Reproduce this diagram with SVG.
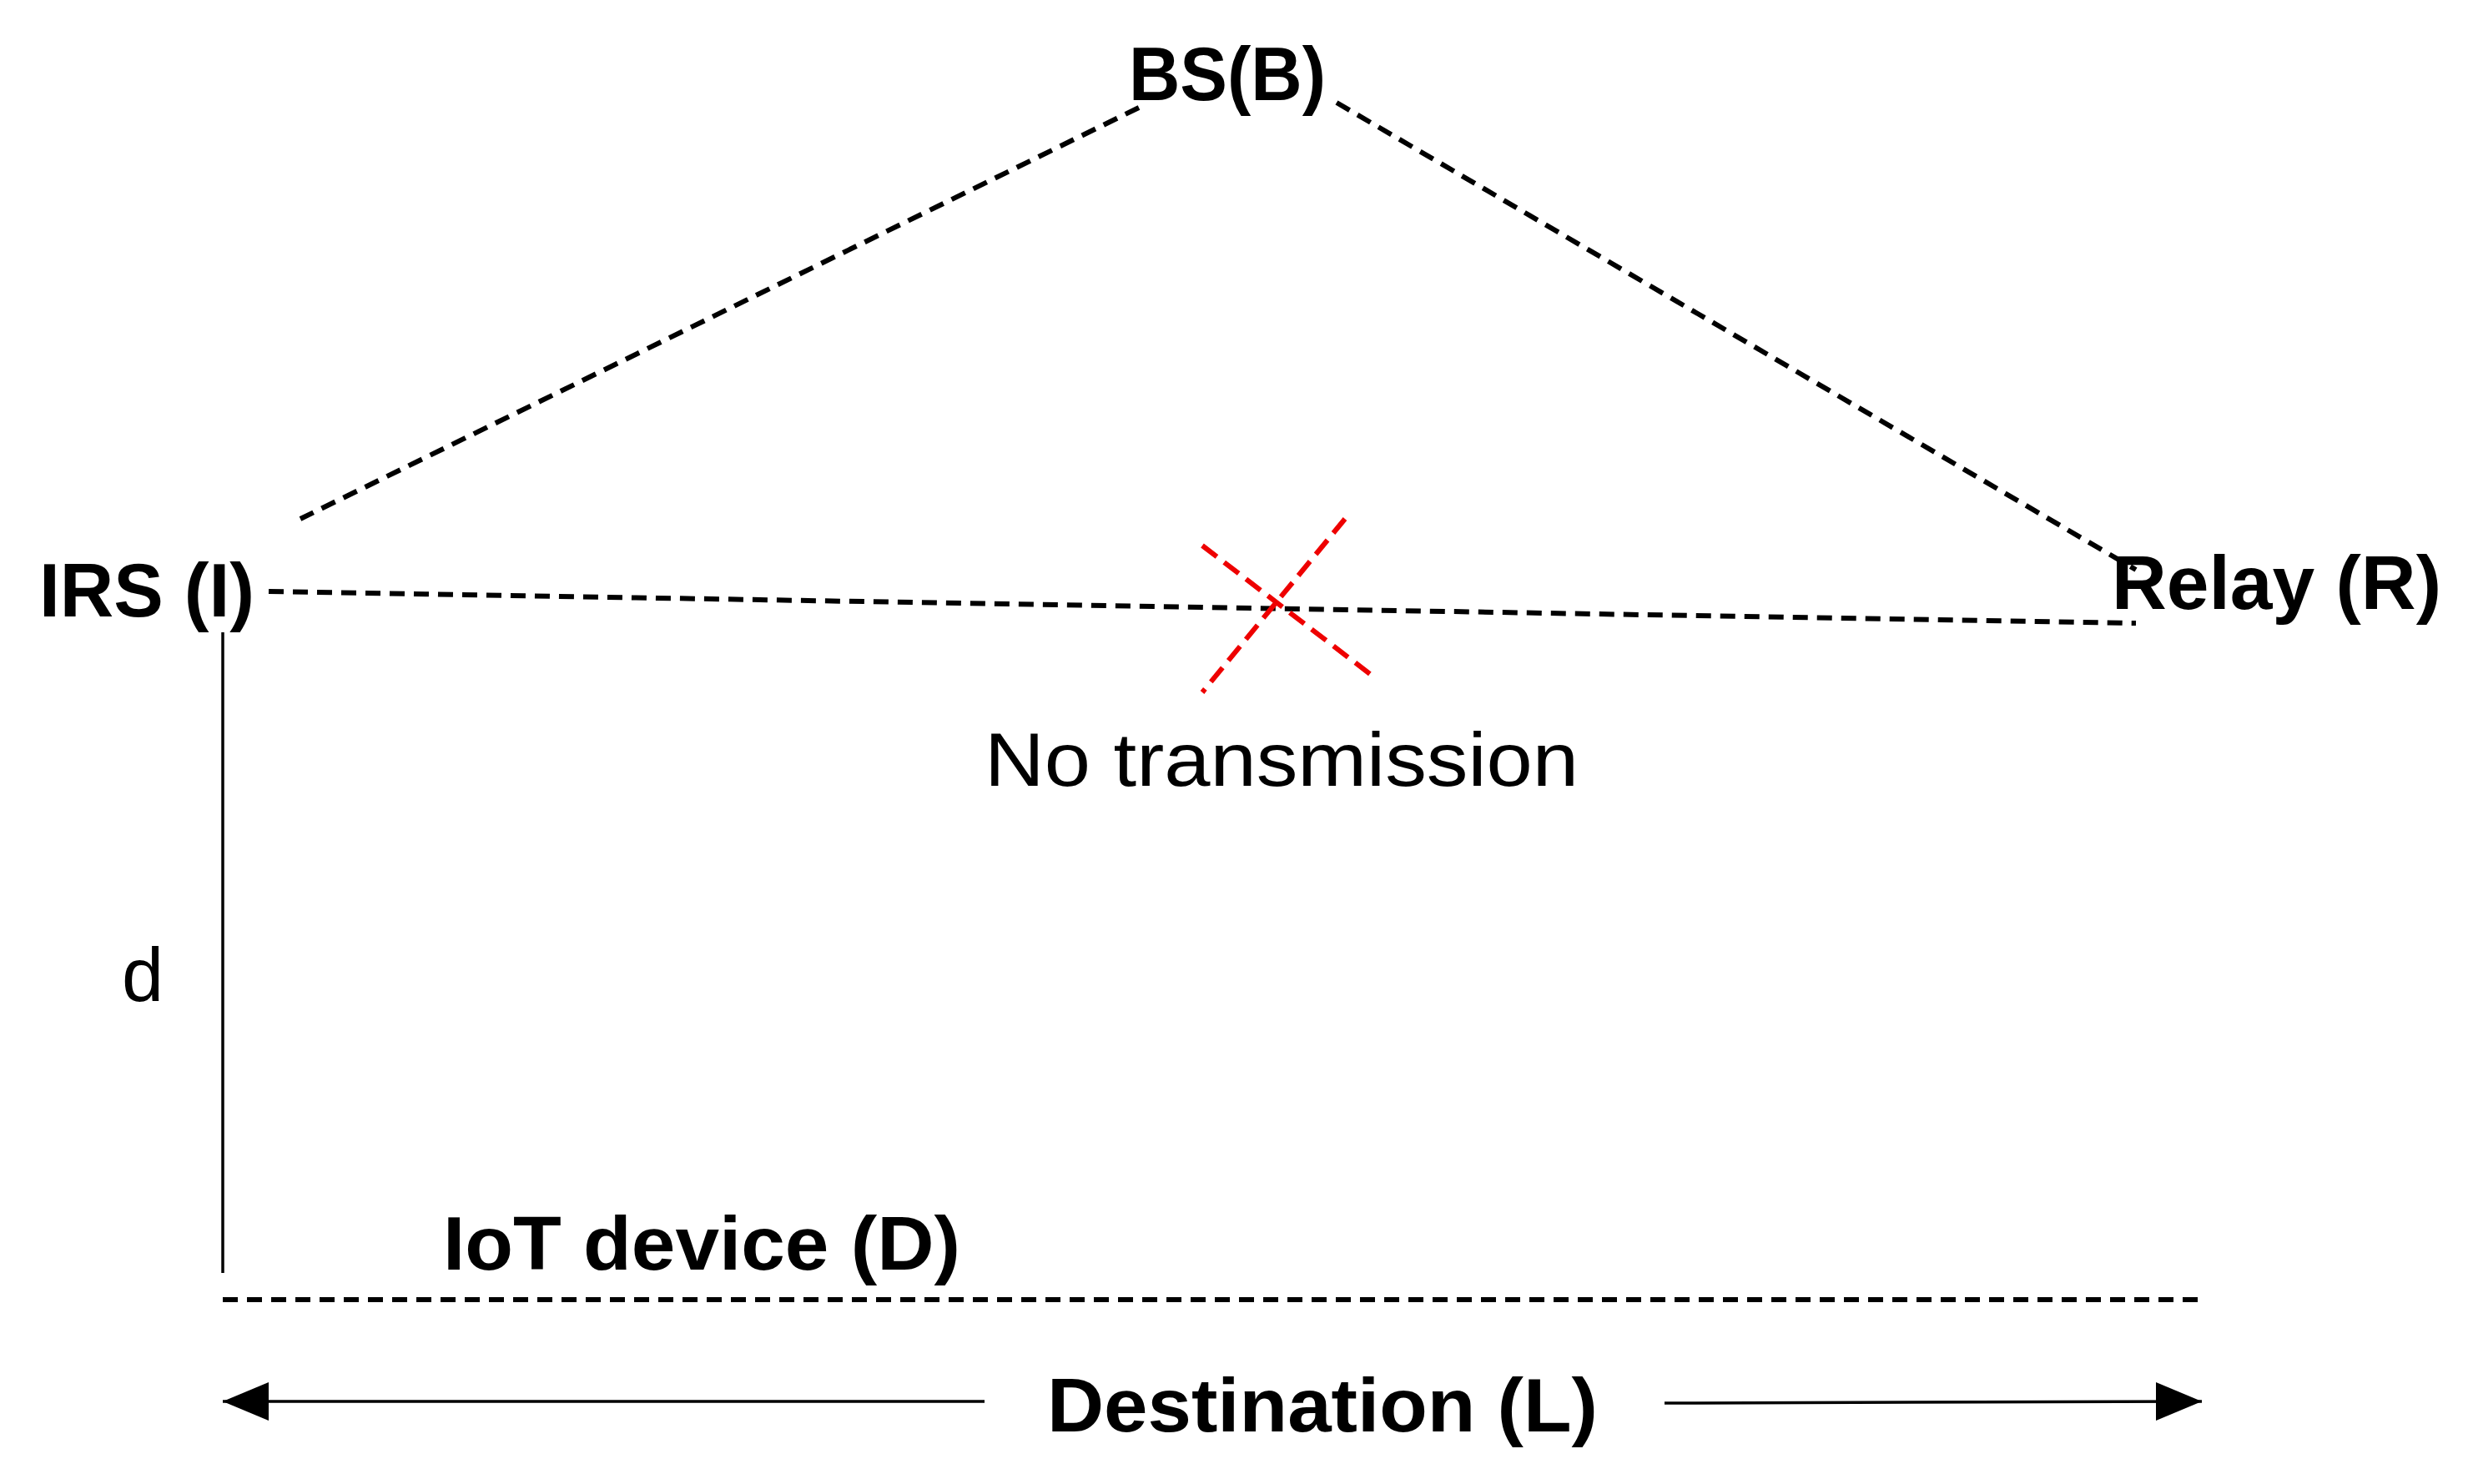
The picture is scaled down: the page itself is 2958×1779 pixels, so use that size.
<svg xmlns="http://www.w3.org/2000/svg" width="2958" height="1779" viewBox="0 0 2958 1779">
<defs>
<style>
.b{font-family:"Liberation Sans",Arial,sans-serif;font-weight:bold;font-size:90px;fill:#000}
.n{font-family:"Liberation Sans",Arial,sans-serif;font-size:90px;fill:#000}
.d{stroke:#000;stroke-width:6;stroke-dasharray:18 11;fill:none}
.r{stroke:#e00;stroke-width:6;stroke-dasharray:22 11;fill:none}
.s{stroke:#000;stroke-width:3.5;fill:none}
</style>
</defs>
<rect width="2958" height="1779" fill="#fff"/>
<g id="connectors">
<line class="d" x1="1365" y1="129" x2="360" y2="622"/>
<line class="d" x1="1602" y1="123" x2="2560" y2="683"/>
<line class="d" x1="322" y1="709" x2="2560" y2="747"/>
<line class="r" x1="1441" y1="654" x2="1642" y2="808"/>
<line class="r" x1="1612" y1="622" x2="1441" y2="830"/>
<line class="s" x1="267" y1="758" x2="267" y2="1526"/>
<line class="d" x1="267" y1="1558" x2="2635" y2="1558"/>
<line class="s" x1="1180" y1="1680" x2="267" y2="1680"/>
<polygon points="267,1680 322,1657 322,1703" fill="#000"/>
<line class="s" x1="1995" y1="1682" x2="2639" y2="1680"/>
<polygon points="2639,1680 2584,1657 2584,1703" fill="#000"/>
</g>
<g id="bs"><text class="b" x="1471" y="120" text-anchor="middle" textLength="236" lengthAdjust="spacingAndGlyphs">BS(B)</text></g>
<g id="irs"><text class="b" x="47" y="739" textLength="258" lengthAdjust="spacingAndGlyphs">IRS (I)</text></g>
<g id="relay"><text class="b" x="2531" y="730" textLength="395" lengthAdjust="spacingAndGlyphs">Relay (R)</text></g>
<g id="notx"><text class="n" x="1180" y="942" textLength="712" lengthAdjust="spacingAndGlyphs">No transmission</text></g>
<g id="d"><text class="n" x="146" y="1200">d</text></g>
<g id="iot"><text class="b" x="531" y="1522" textLength="620" lengthAdjust="spacingAndGlyphs">IoT device (D)</text></g>
<g id="dest"><text class="b" x="1255" y="1716" textLength="660" lengthAdjust="spacingAndGlyphs">Destination (L)</text></g>
</svg>
